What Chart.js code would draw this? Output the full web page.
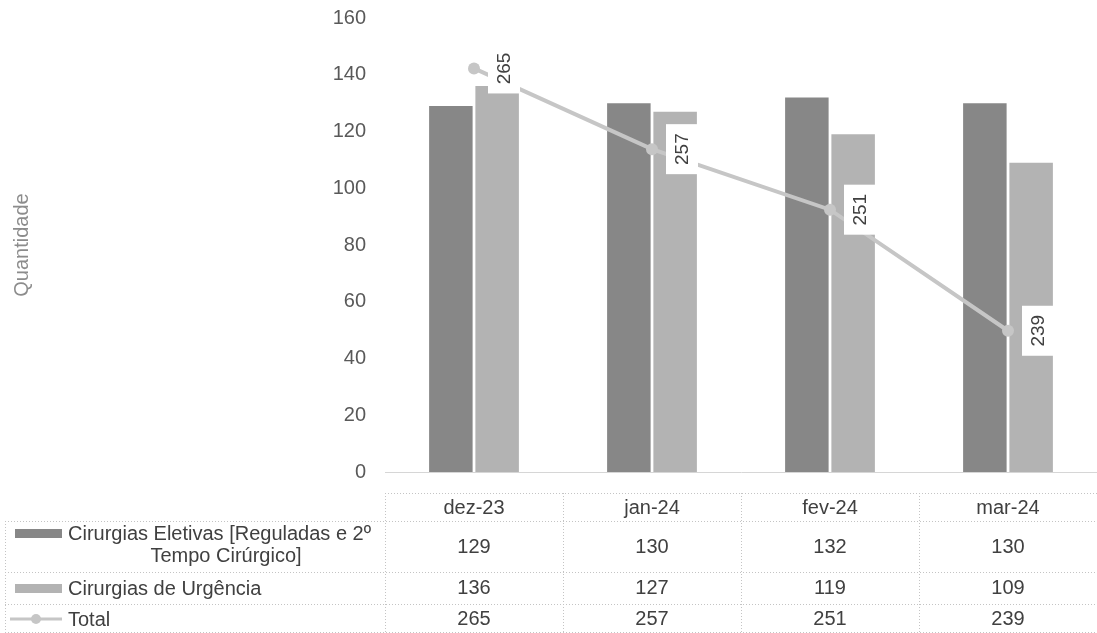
<!DOCTYPE html>
<html><head><meta charset="utf-8">
<script src="https://cdn.jsdelivr.net/npm/chart.js@4.4.1/dist/chart.umd.min.js"></script>
<style>html,body{margin:0;padding:0;background:#fff;overflow:hidden}</style>
</head><body>
<canvas id="c" width="1097" height="633"></canvas>
<script>
const categories = ['dez-23', 'jan-24', 'fev-24', 'mar-24'];
const eletivas = [129, 130, 132, 130];
const urgencia = [136, 127, 119, 109];
const total = [265, 257, 251, 239];
const seriesNames = ['Cirurgias Eletivas [Reguladas e 2º', 'Tempo Cirúrgico]', 'Cirurgias de Urgência', 'Total'];
const yTitle = 'Quantidade';

const FONT = '"Liberation Sans", Arial, sans-serif';
const C_DARK = '#878787', C_LIGHT = '#b3b3b3', C_LINE = '#c6c6c6';
const TXT = '#404040';

Chart.defaults.font.family = FONT;

const tablePlugin = {
  id: 'table',
  afterDraw(chart) {
    const ctx = chart.ctx, x = chart.scales.x;
    const n = categories.length;
    const colW = (x.right - x.left) / n;
    const rows = [493, 521, 572, 604, 632];
    ctx.save();
    ctx.strokeStyle = '#c4c4c4';
    ctx.lineWidth = 1;
    ctx.setLineDash([1, 2]);
    const hl = (y, x0, x1) => { ctx.beginPath(); ctx.moveTo(x0, y + 0.5); ctx.lineTo(x1, y + 0.5); ctx.stroke(); };
    const vl = (xx, y0, y1) => { ctx.beginPath(); ctx.moveTo(xx + 0.5, y0); ctx.lineTo(xx + 0.5, y1); ctx.stroke(); };
    hl(rows[0], x.left, x.right);
    for (let i = 1; i < rows.length; i++) hl(rows[i], 5, x.right);
    vl(5, rows[1], rows[4]);
    for (let i = 0; i <= n; i++) vl(Math.round(x.left + i * colW), rows[0], rows[4]);
    ctx.setLineDash([]);

    ctx.fillStyle = TXT;
    ctx.font = '20px ' + FONT;
    ctx.textBaseline = 'middle';
    ctx.textAlign = 'center';
    const rowY = [508, 547, 588, 619];
    categories.forEach((c, i) => {
      const cx = x.getPixelForValue(i);
      ctx.fillText(c, cx, rowY[0]);
      ctx.fillText(String(eletivas[i]), cx, rowY[1]);
      ctx.fillText(String(urgencia[i]), cx, rowY[2]);
      ctx.fillText(String(total[i]), cx, rowY[3]);
    });
    // legend keys
    ctx.fillStyle = C_DARK; ctx.fillRect(15, 529, 47, 9);
    ctx.fillStyle = C_LIGHT; ctx.fillRect(15, 584, 47, 9);
    ctx.strokeStyle = C_LINE; ctx.lineWidth = 3;
    ctx.beginPath(); ctx.moveTo(10, 619); ctx.lineTo(62, 619); ctx.stroke();
    ctx.fillStyle = C_LINE; ctx.beginPath(); ctx.arc(36, 619, 5, 0, Math.PI * 2); ctx.fill();

    ctx.fillStyle = TXT;
    ctx.textAlign = 'left';
    ctx.fillText(seriesNames[0], 68, 534);
    ctx.textAlign = 'center';
    ctx.fillText(seriesNames[1], 226, 556);
    ctx.textAlign = 'left';
    ctx.fillText(seriesNames[2], 68, 589);
    ctx.fillText(seriesNames[3], 68, 620);
    ctx.restore();
  }
};

const labelPlugin = {
  id: 'lineLabels',
  afterDatasetsDraw(chart) {
    const ctx = chart.ctx;
    const meta = chart.getDatasetMeta(2);
    ctx.save();
    ctx.font = '19px ' + FONT;
    meta.data.forEach((pt, i) => {
      const cx = pt.x + 30, cy = pt.y;
      ctx.fillStyle = '#ffffff';
      ctx.fillRect(cx - 16, cy - 25, 32, 50);
      ctx.translate(cx, cy);
      ctx.rotate(-Math.PI / 2);
      ctx.fillStyle = TXT;
      ctx.textAlign = 'center';
      ctx.textBaseline = 'middle';
      ctx.fillText(String(total[i]), 0, 1);
      ctx.setTransform(1, 0, 0, 1, 0, 0);
    });
    ctx.restore();
  }
};

new Chart(document.getElementById('c'), {
  data: {
    labels: categories,
    datasets: [
      { type: 'bar', label: seriesNames[0] + ' ' + seriesNames[1], data: eletivas, backgroundColor: C_DARK, yAxisID: 'y', order: 2, categoryPercentage: 0.52, barPercentage: 0.94 },
      { type: 'bar', label: seriesNames[2], data: urgencia, backgroundColor: C_LIGHT, yAxisID: 'y', order: 2, categoryPercentage: 0.52, barPercentage: 0.94 },
      { type: 'line', label: seriesNames[3], data: total, borderColor: C_LINE, backgroundColor: C_LINE, borderWidth: 4, pointRadius: 6, pointBackgroundColor: C_LINE, pointBorderWidth: 0, yAxisID: 'y2', order: 0, tension: 0 }
    ]
  },
  options: {
    responsive: false,
    animation: false,
    layout: { autoPadding: false, padding: { top: 18, left: 0, right: -4, bottom: 0 } },
    plugins: { legend: { display: false }, tooltip: { enabled: false } },
    scales: {
      x: {
        grid: { display: false, drawTicks: false },
        border: { display: true, color: '#d6d6d6', dash: [1, 2] },
        ticks: { display: false, padding: 0 },
        afterFit(s) { s.height = 161; s.paddingLeft = 0; s.paddingRight = 0; }
      },
      y: {
        position: 'left',
        min: 0, max: 160,
        ticks: { stepSize: 20, color: '#595959', font: { size: 20 }, padding: 0 },
        grid: { display: false, drawTicks: true, tickLength: 19 },
        border: { display: false },
        title: { display: true, text: yTitle, color: '#8c8c8c', font: { size: 20 }, padding: { top: 10, bottom: 0 } },
        afterFit(s) { s.width = 385; }
      },
      y2: {
        position: 'right', display: false, min: 225, max: 270
      }
    }
  },
  plugins: [tablePlugin, labelPlugin]
});
</script>
</body></html>
